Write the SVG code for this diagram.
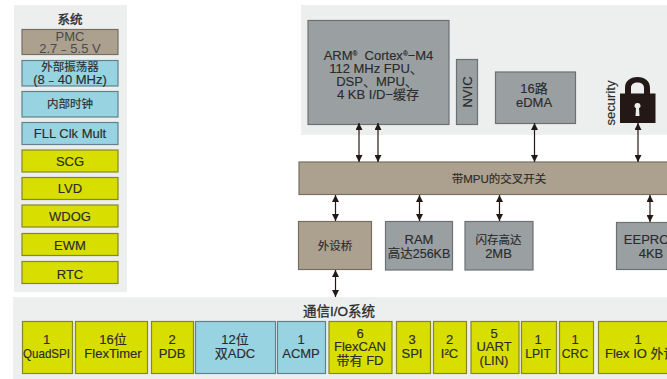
<svg xmlns="http://www.w3.org/2000/svg" width="667" height="379" viewBox="0 0 667 379">
<style>
text{font-family:"Liberation Sans","Noto Sans CJK SC",sans-serif;font-size:13px;fill:#2b2b2b;text-anchor:middle;stroke:#2b2b2b;stroke-width:.15}
.p{fill:#edefee}
.y{fill:#d8de00;stroke:#86862a;stroke-width:1.2}
.b{fill:#98d3e2;stroke:#5f828c;stroke-width:1.2}
.t{fill:#aca08f;stroke:#776e62;stroke-width:1.2}
.g{fill:#9aa0a2;stroke:#6c7173;stroke-width:1.2}
.c{stroke:#231815;stroke-width:1.2;fill:none;marker-start:url(#a);marker-end:url(#a)}
.s{font-size:11.500px}
.d{fill:#4a4a4a;stroke:none}
</style>
<defs><marker id="a" markerUnits="userSpaceOnUse" markerWidth="8" markerHeight="7" refX="7" refY="3.5" orient="auto-start-reverse"><path d="M0 0L7 3.5L0 7Z" fill="#231815"/></marker></defs>
<rect class="p" x="14" y="5" width="113" height="287"/>
<rect class="p" x="301" y="5" width="366" height="130"/>
<rect class="p" x="13" y="297" width="654" height="82"/>
<text x="70" y="24" style="font-size:12.500px;stroke-width:.4">系统</text>
<g id="pmc"><rect class="t" x="22" y="29.500" width="96" height="25"/><text class="d"><tspan x="70" y="41">PMC</tspan><tspan x="70" y="53">2.7﹣5.5 V</tspan></text></g>
<g id="osc"><rect class="b" x="22" y="60.500" width="96" height="25.500"/><text><tspan class="s" x="70" y="71">外部振荡器</tspan><tspan x="70" y="83.500">(8﹣40 MHz)</tspan></text></g>
<g id="irc"><rect class="b" x="22" y="91.500" width="96" height="25.500"/><text class="s" x="70" y="108">内部时钟</text></g>
<g id="fll"><rect class="b" x="22" y="122.500" width="96" height="22"/><text x="70" y="138">FLL Clk Mult</text></g>
<g id="scg"><rect class="y" x="22" y="150" width="96" height="22"/><text x="70" y="166">SCG</text></g>
<g id="lvd"><rect class="y" x="22" y="177.500" width="96" height="22"/><text x="70" y="193">LVD</text></g>
<g id="wdog"><rect class="y" x="22" y="205" width="96" height="22"/><text x="70" y="221">WDOG</text></g>
<g id="ewm"><rect class="y" x="22" y="233.500" width="96" height="22"/><text x="70" y="249.500">EWM</text></g>
<g id="rtc"><rect class="y" x="22" y="261.500" width="96" height="22"/><text x="70" y="278.500">RTC</text></g>
<g id="cpu"><rect class="g" x="308" y="20.500" width="141" height="104"/>
<text><tspan x="378.500" y="60">ARM<tspan dy="-4" style="font-size:6.500px">®</tspan><tspan dy="4" xml:space="preserve">  Cortex</tspan><tspan dy="-4" style="font-size:6.500px">®</tspan><tspan dy="4">−M4</tspan></tspan><tspan x="376" y="73">112 MHz FPU、</tspan><tspan x="377" y="85.500">DSP、MPU、</tspan><tspan x="378" y="98.500">4 KB I/D−缓存</tspan></text></g>
<g id="nvic"><rect class="g" x="456.500" y="59.500" width="21" height="65"/><text transform="translate(472 92) rotate(-90)">NVIC</text></g>
<g id="edma"><rect class="g" x="495.500" y="72" width="80" height="51.500"/><text><tspan x="534" y="93">16路</tspan><tspan x="534" y="107">eDMA</tspan></text></g>
<g id="security"><text transform="translate(614.500 103) rotate(-90)">security</text>
<path fill="#231815" fill-rule="evenodd" d="M620 93.500H625V88C625 81 630 77 637.500 77C645 77 650 81 650 88V93.500H655.500V123H620ZM631 93.500H644V88C644 84 641 82.500 637.500 82.500C634 82.500 631 84 631 88ZM637.500 103A2.800 2.800 0 0 0 636 108.300L635.500 116H639.500L639 108.300A2.800 2.800 0 0 0 637.500 103Z"/></g>
<g id="xbar"><rect class="t" x="299" y="162" width="370" height="32.500"/><text x="499" y="183" class="s">带MPU的交叉开关</text></g>
<g id="bridge"><rect class="t" x="298.500" y="221.500" width="73" height="48"/><text x="335" y="250" class="s">外设桥</text></g>
<g id="ram"><rect class="g" x="385.500" y="221.500" width="67" height="48.500"/><text><tspan x="419" y="244">RAM</tspan><tspan x="419" y="258" style="font-size:12.500px">高达256KB</tspan></text></g>
<g id="flash"><rect class="g" x="465" y="221.500" width="68" height="48.500"/><text><tspan class="s" x="498.500" y="244">闪存高达</tspan><tspan x="498.500" y="258">2MB</tspan></text></g>
<g id="eeprom"><rect class="g" x="616.500" y="222.500" width="56" height="47"/><text><tspan x="652" y="244">EEPROM</tspan><tspan x="651" y="258">4KB</tspan></text></g>
<g id="connectors"><path class="c" d="M359 123V162"/><path class="c" d="M378 123V162"/><path class="c" d="M534.500 123V162"/><path class="c" d="M638 123V162"/><path class="c" d="M335.500 195V221"/><path class="c" d="M419.500 195V221"/><path class="c" d="M499.500 195V221"/><path class="c" d="M650 195V222"/><path class="c" d="M335.500 270V297"/></g>
<text x="339" y="316" style="font-size:13.500px;stroke-width:.3">通信I/O系统</text>
<g id="quadspi"><rect class="y" x="22.500" y="321.500" width="50" height="52"/><text><tspan x="46.500" y="344">1</tspan><tspan x="23" y="358" style="text-anchor:start" textLength="47" lengthAdjust="spacingAndGlyphs">QuadSPI</tspan></text></g>
<g id="flextimer"><rect class="y" x="75.500" y="321.500" width="72" height="52"/><text><tspan x="113" y="344">16位</tspan><tspan x="113" y="358">FlexTimer</tspan></text></g>
<g id="pdb"><rect class="y" x="151.500" y="321.500" width="42" height="52"/><text><tspan x="172" y="344">2</tspan><tspan x="172" y="358">PDB</tspan></text></g>
<g id="adc"><rect class="b" x="195.500" y="321.500" width="80" height="52"/><text><tspan x="235" y="344">12位</tspan><tspan x="235" y="358">双ADC</tspan></text></g>
<g id="acmp"><rect class="b" x="277.500" y="321.500" width="48" height="52"/><text><tspan x="301" y="344">1</tspan><tspan x="301" y="358">ACMP</tspan></text></g>
<g id="flexcan"><rect class="y" x="329" y="321.500" width="63" height="52"/><text><tspan x="360" y="338">6</tspan><tspan x="360" y="351">FlexCAN</tspan><tspan x="360" y="364.500">带有 FD</tspan></text></g>
<g id="spi"><rect class="y" x="396.500" y="321.500" width="34" height="52"/><text><tspan x="412" y="344">3</tspan><tspan x="412" y="358">SPI</tspan></text></g>
<g id="i2c"><rect class="y" x="433.500" y="321.500" width="33" height="52"/><text><tspan x="449.500" y="344">2</tspan><tspan x="449.500" y="358">I²C</tspan></text></g>
<g id="uart"><rect class="y" x="471" y="321.500" width="48" height="52"/><text><tspan x="494" y="338">5</tspan><tspan x="494" y="351">UART</tspan><tspan x="494" y="364.500">(LIN)</tspan></text></g>
<g id="lpit"><rect class="y" x="521.500" y="321.500" width="35" height="52"/><text><tspan x="538" y="344">1</tspan><tspan x="538" y="358" style="font-size:12.200px">LPIT</tspan></text></g>
<g id="crc"><rect class="y" x="559.500" y="321.500" width="34" height="52"/><text><tspan x="575" y="344">1</tspan><tspan x="575" y="358" style="font-size:12.200px">CRC</tspan></text></g>
<g id="flexio"><rect class="y" x="598.500" y="321.500" width="80" height="52"/><text><tspan x="638" y="344">1</tspan><tspan x="605" y="358" style="text-anchor:start">Flex IO 外设</tspan></text></g>
</svg>
